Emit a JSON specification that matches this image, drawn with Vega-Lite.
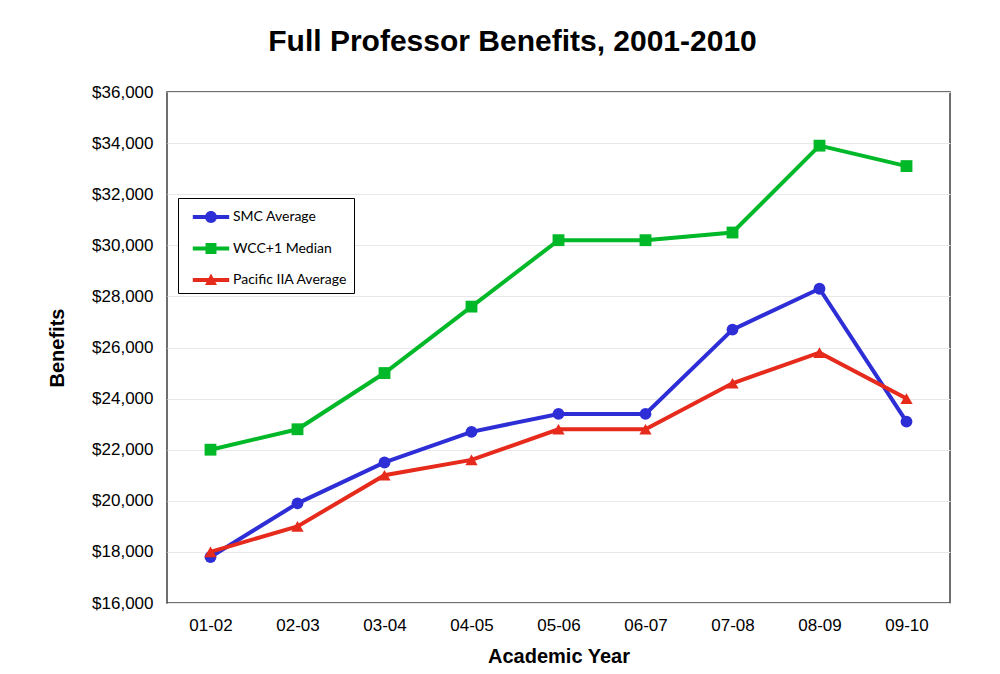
{
  "$schema": "https://vega.github.io/schema/vega-lite/v6.json",
  "width": 783,
  "height": 511,
  "autosize": "none",
  "padding": {"left": 167, "top": 92, "right": 50, "bottom": 71},
  "background": "white",
  "config": {
    "font": "Liberation Sans",
    "view": {"stroke": "#404040", "strokeWidth": 1.5}
  },
  "title": {
    "text": "Full Professor Benefits, 2001-2010",
    "font": "Liberation Sans",
    "fontSize": 30,
    "fontWeight": "bold",
    "color": "black",
    "anchor": "middle",
    "baseline": "alphabetic",
    "offset": 2,
    "dx": -46
  },
  "data": {
    "values": [
      {"year": "01-02", "series": "SMC Average", "value": 17800},
      {"year": "02-03", "series": "SMC Average", "value": 19900},
      {"year": "03-04", "series": "SMC Average", "value": 21500},
      {"year": "04-05", "series": "SMC Average", "value": 22700},
      {"year": "05-06", "series": "SMC Average", "value": 23400},
      {"year": "06-07", "series": "SMC Average", "value": 23400},
      {"year": "07-08", "series": "SMC Average", "value": 26700},
      {"year": "08-09", "series": "SMC Average", "value": 28300},
      {"year": "09-10", "series": "SMC Average", "value": 23100},
      {"year": "01-02", "series": "WCC+1 Median", "value": 22000},
      {"year": "02-03", "series": "WCC+1 Median", "value": 22800},
      {"year": "03-04", "series": "WCC+1 Median", "value": 25000},
      {"year": "04-05", "series": "WCC+1 Median", "value": 27600},
      {"year": "05-06", "series": "WCC+1 Median", "value": 30200},
      {"year": "06-07", "series": "WCC+1 Median", "value": 30200},
      {"year": "07-08", "series": "WCC+1 Median", "value": 30500},
      {"year": "08-09", "series": "WCC+1 Median", "value": 33900},
      {"year": "09-10", "series": "WCC+1 Median", "value": 33100},
      {"year": "01-02", "series": "Pacific IIA Average", "value": 18000},
      {"year": "02-03", "series": "Pacific IIA Average", "value": 19000},
      {"year": "03-04", "series": "Pacific IIA Average", "value": 21000},
      {"year": "04-05", "series": "Pacific IIA Average", "value": 21600},
      {"year": "05-06", "series": "Pacific IIA Average", "value": 22800},
      {"year": "06-07", "series": "Pacific IIA Average", "value": 22800},
      {"year": "07-08", "series": "Pacific IIA Average", "value": 24600},
      {"year": "08-09", "series": "Pacific IIA Average", "value": 25800},
      {"year": "09-10", "series": "Pacific IIA Average", "value": 24000}
    ]
  },
  "encoding": {
    "x": {
      "field": "year",
      "type": "ordinal",
      "scale": {"type": "point", "padding": 0.5},
      "axis": {
        "title": "Academic Year",
        "labelAngle": 0,
        "labelFontSize": 17,
        "labelColor": "black",
        "labelPadding": 14,
        "domain": false,
        "ticks": false,
        "grid": false,
        "titleFontSize": 20,
        "titleFontWeight": "bold",
        "titleColor": "black",
        "titlePadding": 13
      }
    },
    "y": {
      "field": "value",
      "type": "quantitative",
      "scale": {"domain": [16000, 36000], "nice": false, "zero": false},
      "axis": {
        "title": "Benefits",
        "values": [16000, 18000, 20000, 22000, 24000, 26000, 28000, 30000, 32000, 34000, 36000],
        "format": "$,.0f",
        "labelFontSize": 17,
        "labelColor": "black",
        "labelPadding": 14,
        "domain": false,
        "ticks": false,
        "grid": true,
        "gridColor": "#e8e8e8",
        "gridWidth": 1,
        "titleFontSize": 20,
        "titleFontWeight": "bold",
        "titleColor": "black",
        "titlePadding": 24
      }
    },
    "color": {
      "field": "series",
      "type": "nominal",
      "scale": {
        "domain": ["SMC Average", "WCC+1 Median", "Pacific IIA Average"],
        "range": ["#2e2ed6", "#00b828", "#e62a1c"]
      },
      "legend": {
        "orient": "none",
        "legendX": 11,
        "legendY": 106,
        "title": null,
        "padding": 6,
        "symbolOffset": 14,
        "labelOffset": 9,
        "symbolSize": 676,
        "rowPadding": 11.5,
        "strokeColor": "black",
        "fillColor": "white",
        "labelFont": "Lato",
        "labelFontSize": 14,
        "labelColor": "black",
        "encoding": {
          "symbols": {
            "shape": {"value": {"expr": "datum.value === 'SMC Average' ? 'M-1.4,-0.154H1.4V0.154H-1.4ZM-0.46,0A0.46,0.46 0 1,1 0.46,0A0.46,0.46 0 1,1 -0.46,0Z' : datum.value === 'WCC+1 Median' ? 'M-1.4,-0.154H1.4V0.154H-1.4ZM-0.42,-0.42H0.42V0.42H-0.42Z' : 'M-1.4,-0.154H1.4V0.154H-1.4ZM0,-0.5L0.46,0.38L-0.46,0.38Z'"}},
            "fill": {"value": {"expr": "scale('color', datum.value)"}},
            "stroke": {"value": "transparent"},
            "strokeWidth": {"value": 0},
            "opacity": {"value": 1}
          }
        }
      }
    }
  },
  "layer": [
    {
      "mark": {"type": "line", "strokeWidth": 4}
    },
    {
      "transform": [{"filter": "datum.series === 'SMC Average'"}],
      "mark": {"type": "point", "shape": "circle", "filled": true, "opacity": 1, "size": 140}
    },
    {
      "transform": [{"filter": "datum.series === 'WCC+1 Median'"}],
      "mark": {"type": "point", "shape": "square", "filled": true, "opacity": 1, "size": 140}
    },
    {
      "transform": [{"filter": "datum.series === 'Pacific IIA Average'"}],
      "mark": {"type": "point", "shape": "triangle-up", "filled": true, "opacity": 1, "size": 150}
    }
  ]
}
